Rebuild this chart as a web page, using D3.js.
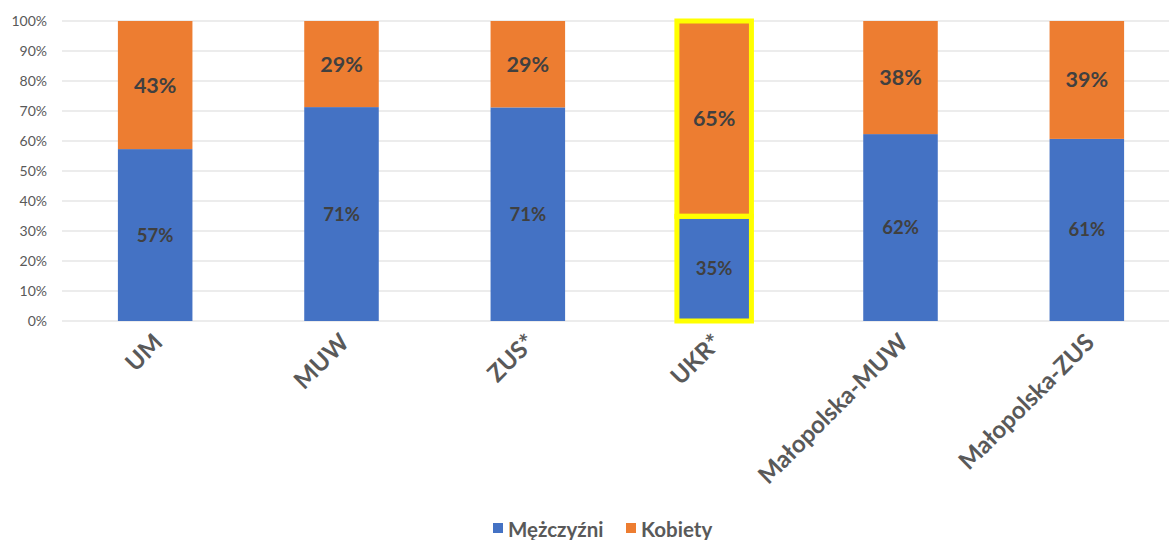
<!DOCTYPE html>
<html><head><meta charset="utf-8">
<script src="https://cdn.jsdelivr.net/npm/d3@7"></script>
<style>body{margin:0;background:#fff}svg{display:block}text{font-family:Lato,"Open Sans",sans-serif}</style>
</head><body><svg id="c" width="1169" height="540"></svg>
<script>
const categories = ["UM","MUW","ZUS*","UKR*","Małopolska-MUW","Małopolska-ZUS"];
const men = [57.3, 71.3, 71.2, 34.9, 62.3, 60.7];
const women = [42.7, 28.7, 28.8, 65.1, 37.7, 39.3];
const seriesNames = ["Mężczyźni","Kobiety"];
const yTicks = [0,10,20,30,40,50,60,70,80,90,100];
const highlighted = ["UKR*"];

const svg = d3.select("#c");
const x = d3.scaleBand().domain(categories).range([62,1180]).paddingInner(0.6).paddingOuter(0.3);
const y = d3.scaleLinear().domain([0,100]).range([321,21]);
const colors = ["#4472c4","#ed7d31"];

svg.append("g").selectAll("line").data(yTicks).join("line")
  .attr("x1",62).attr("x2",1169).attr("y1",d=>y(d)).attr("y2",d=>y(d))
  .attr("stroke","#d9d9d9").attr("stroke-width",1);

const yAxis = svg.append("g").attr("transform","translate(62,0)")
  .call(d3.axisLeft(y).tickValues(yTicks).tickFormat(d=>d+"%").tickSize(0).tickPadding(15));
yAxis.select(".domain").remove();
yAxis.selectAll("text").attr("fill","#595959").attr("font-size",14);

const data = categories.map((c,i)=>({c, vals:[men[i],women[i]]}));
const stacked = d3.stack().keys([0,1]).value((d,k)=>d.vals[k])(data);

stacked.forEach((s,si)=>{
  svg.append("g").selectAll("rect").data(s).join("rect")
    .attr("x",d=>x(d.data.c)).attr("width",x.bandwidth())
    .attr("y",d=>y(d[1])).attr("height",d=>y(d[0])-y(d[1]))
    .attr("fill",colors[si]);
});
stacked.forEach((s,si)=>{
  svg.append("g").selectAll("rect").data(s.filter(d=>highlighted.includes(d.data.c))).join("rect")
    .attr("x",d=>x(d.data.c)).attr("width",x.bandwidth())
    .attr("y",d=>y(d[1])).attr("height",d=>y(d[0])-y(d[1]))
    .attr("fill","none").attr("stroke","#ffff00").attr("stroke-width",5);
});
stacked.forEach((s,si)=>{
  svg.append("g").selectAll("text").data(s).join("text")
    .attr("x",d=>x(d.data.c)+x.bandwidth()/2)
    .attr("y",d=>y((d[0]+d[1])/2))
    .attr("dy","0.35em").attr("text-anchor","middle")
    .attr("font-weight","bold").attr("font-size",si===0?18.5:21.5)
    .attr("fill","#404040")
    .text(d=>Math.round(d[1]-d[0])+"%");
});

const xAxis = svg.append("g").attr("transform","translate(0,321)")
  .call(d3.axisBottom(x).tickSize(0).tickPadding(0));
xAxis.select(".domain").remove();
xAxis.selectAll("text")
  .attr("fill","#595959").attr("font-size",24).attr("font-weight","bold")
  .attr("text-anchor","end").attr("dy",0)
  .attr("transform","translate(9,23) rotate(-45)");

const lg = svg.append("g");
const legX = [493, 626];
seriesNames.forEach((n,i)=>{
  lg.append("rect").attr("x",legX[i]).attr("y",523).attr("width",10).attr("height",10).attr("fill",colors[i]);
  lg.append("text").attr("x",legX[i]+15).attr("y",537).attr("font-size",20.5).attr("font-weight","bold")
    .attr("fill","#595959").text(n);
});
</script></body></html>
